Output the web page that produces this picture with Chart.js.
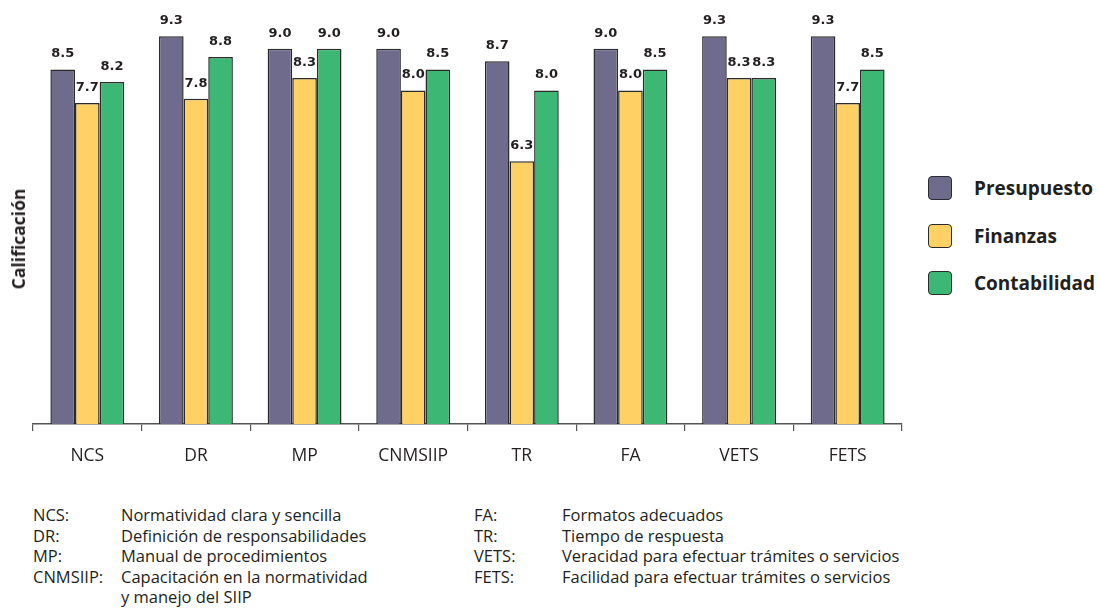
<!DOCTYPE html>
<html lang="es">
<head>
<meta charset="utf-8">
<title>Calificación por área</title>
<script src="https://cdn.jsdelivr.net/npm/chart.js@4.4.1/dist/chart.umd.min.js"></script>
<style>
  html, body { margin: 0; padding: 0; background: #ffffff; }
  body { width: 1099px; height: 610px; position: relative; overflow: hidden; font-family: "Open Sans", "Noto Sans", sans-serif; color: #231f20; }
  #wrap { position: absolute; left: 0; top: 0; width: 912px; height: 490px; }
  #ytitle { position: absolute; left: 18px; top: 239px; transform: translate(-50%, -50%) rotate(-90deg); font-weight: 700; font-size: 17.5px; white-space: nowrap; }
  #legend { position: absolute; left: 928px; top: 176px; }
  .li { display: flex; align-items: center; height: 24px; margin-bottom: 23.5px; }
  .sw { width: 22px; height: 22px; border: 1.5px solid #2b2b2b; border-radius: 4px; margin-right: 22px; }
  .lt { font-weight: 700; font-size: 19px; }
  .notes { position: absolute; top: 505px; font-size: 16.5px; line-height: 20.6px; }
  .notes .row { display: flex; }
  .notes .ab { flex: none; }
</style>
</head>
<body>
<div id="wrap"><canvas id="chart"></canvas></div>
<div id="ytitle">Calificación</div>
<div id="legend"></div>
<div class="notes" id="notesL" style="left:33px"></div>
<div class="notes" id="notesR" style="left:474px"></div>
<script>
// Categories and scores per area
const categories = ["NCS", "DR", "MP", "CNMSIIP", "TR", "FA", "VETS", "FETS"];
const presupuesto = [8.5, 9.3, 9.0, 9.0, 8.7, 9.0, 9.3, 9.3];
const finanzas    = [7.7, 7.8, 8.3, 8.0, 6.3, 8.0, 8.3, 7.7];
const contabilidad = [8.2, 8.8, 9.0, 8.5, 8.0, 8.5, 8.3, 8.5];
const seriesNames = ["Presupuesto", "Finanzas", "Contabilidad"];
const seriesColors = ["#6f6b8c", "#ffd064", "#3db874"];

// Abbreviation glossary
const notesLeft = [
  ["NCS:", "Normatividad clara y sencilla"],
  ["DR:", "Definición de responsabilidades"],
  ["MP:", "Manual de procedimientos"],
  ["CNMSIIP:", "Capacitación en la normatividad"],
  ["", "y manejo del SIIP"]
];
const notesRight = [
  ["FA:", "Formatos adecuados"],
  ["TR:", "Tiempo de respuesta"],
  ["VETS:", "Veracidad para efectuar trámites o servicios"],
  ["FETS:", "Facilidad para efectuar trámites o servicios"]
];

function fillNotes(id, rows, abWidth) {
  const el = document.getElementById(id);
  rows.forEach(r => {
    const row = document.createElement("div");
    row.className = "row";
    const a = document.createElement("span");
    a.className = "ab"; a.style.width = abWidth + "px"; a.textContent = r[0];
    const d = document.createElement("span");
    d.textContent = r[1];
    row.appendChild(a); row.appendChild(d);
    el.appendChild(row);
  });
}
fillNotes("notesL", notesLeft, 88);
fillNotes("notesR", notesRight, 88);

const legend = document.getElementById("legend");
seriesNames.forEach((n, i) => {
  const li = document.createElement("div");
  li.className = "li";
  const sw = document.createElement("div");
  sw.className = "sw"; sw.style.background = seriesColors[i];
  const t = document.createElement("span");
  t.className = "lt"; t.textContent = n;
  li.appendChild(sw); li.appendChild(t);
  legend.appendChild(li);
});

// Value labels above each bar
const valueLabels = {
  id: "valueLabels",
  afterDatasetsDraw(chart) {
    const ctx = chart.ctx;
    ctx.save();
    ctx.font = "bold 13px 'DejaVu Sans', sans-serif";
    ctx.fillStyle = "#231f20";
    ctx.textAlign = "center";
    ctx.textBaseline = "bottom";
    chart.data.datasets.forEach((ds, di) => {
      chart.getDatasetMeta(di).data.forEach((bar, i) => {
        ctx.fillText(ds.data[i].toFixed(1), bar.x, bar.y - 9);
      });
    });
    ctx.restore();
  }
};

const allSeries = [presupuesto, finanzas, contabilidad];
new Chart(document.getElementById("chart"), {
  type: "bar",
  data: {
    labels: categories,
    datasets: allSeries.map((d, i) => ({
      label: seriesNames[i],
      data: d,
      backgroundColor: seriesColors[i],
      borderColor: "#2b2b2b",
      borderWidth: 1.5,
      borderSkipped: "bottom",
      categoryPercentage: 0.68,
      barPercentage: 1.0
    }))
  },
  options: {
    responsive: true,
    maintainAspectRatio: false,
    animation: false,
    layout: { padding: { left: 33, right: 10, top: 7, bottom: 8 } },
    plugins: { legend: { display: false }, tooltip: { enabled: false } },
    scales: {
      y: { display: false, min: 0, max: 10 },
      x: {
        offset: true,
        grid: { offset: true, drawOnChartArea: false, drawTicks: true, tickLength: 7, color: "#555555", lineWidth: 1.2 },
        border: { display: true, color: "#555555", width: 1.5 },
        ticks: { color: "#231f20", font: { family: "'Open Sans', sans-serif", size: 17.5 }, padding: 15 }
      }
    }
  },
  plugins: [valueLabels]
});
</script>
</body>
</html>
